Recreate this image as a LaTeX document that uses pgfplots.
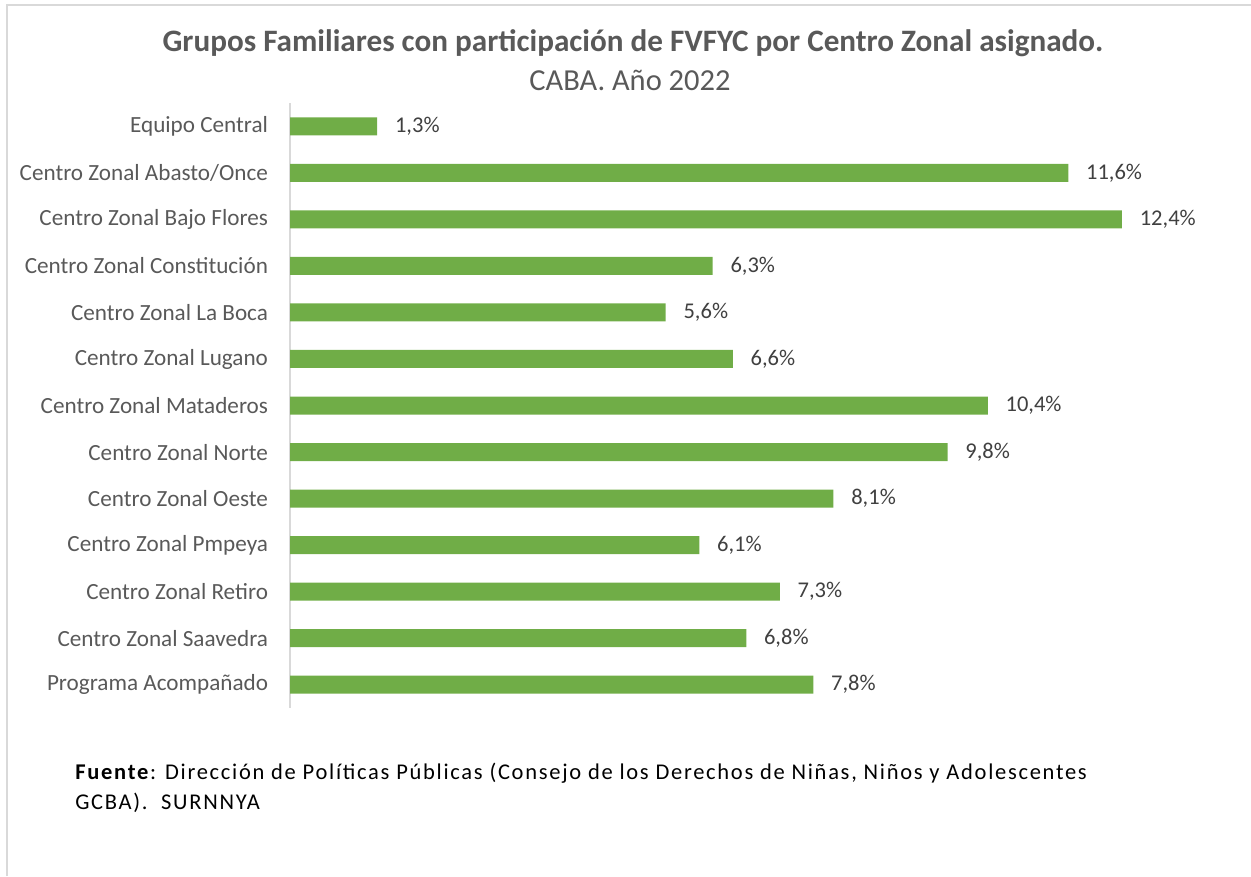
\documentclass[border=0pt]{standalone}
\usepackage{pgfplots}
\pgfplotsset{compat=1.18}
\usepackage{fontspec}
\setmainfont{Carlito}
\newfontfamily\spacedfont[LetterSpace=7.6]{Carlito}
\definecolor{bargreen}{HTML}{70AD47}
\definecolor{txtgray}{HTML}{595959}
\definecolor{lblgray}{HTML}{404040}
\definecolor{axgray}{HTML}{D9D9D9}
\pgfplotsset{/pgf/number format/assume math mode=true}
\begin{document}
\begin{tikzpicture}[x=0.6pt,y=-0.6pt]
\path[use as bounding box] (0,0) rectangle (1251,876);
\draw[axgray, line width=1.2pt] (7,876) -- (7,5) -- (1251,5);
\coordinate (A) at (290,708);
\node[font=\fontsize{18.7}{22}\selectfont\bfseries, text=txtgray, anchor=base] at (633,52) {Grupos Familiares con participación de FVFYC por Centro Zonal asignado.};
\node[font=\fontsize{18.3}{21}\selectfont, text=txtgray, anchor=base] at (630,91) {CABA. Año 2022};
\begin{axis}[
  at={(A)}, anchor=south west, scale only axis,
  width=563.6pt, height=363pt,
  xmin=0, xmax=14, ymin=-0.5, ymax=12.5,
  y dir=reverse,
  xbar, bar width=10.8pt,
  axis x line=none, axis y line*=left,
  y axis line style={draw=axgray, line width=1.2pt},
  major tick length=0pt,
  ytick={0,...,12},
  yticklabels={Equipo Central, Centro Zonal Abasto/Once, Centro Zonal Bajo Flores, Centro Zonal Constitución, Centro Zonal La Boca, Centro Zonal Lugano, Centro Zonal Mataderos, Centro Zonal Norte, Centro Zonal Oeste, Centro Zonal Pmpeya, Centro Zonal Retiro, Centro Zonal Saavedra, Programa Acompañado},
  yticklabel style={font=\fontsize{13.9}{16}\selectfont, text=txtgray, anchor=east, inner sep=0pt, xshift=-13pt},
  point meta=x,
  nodes near coords={\pgfmathprintnumber[fixed,fixed zerofill,precision=1,use comma]{\pgfplotspointmeta}\%},
  nodes near coords style={font=\fontsize{13.5}{16}\selectfont, text=lblgray, anchor=west, inner sep=0pt, xshift=10.5pt},
]
\addplot[fill=bargreen, draw=none] coordinates {
(1.3,0) (11.6,1) (12.4,2) (6.3,3) (5.6,4) (6.6,5) (10.4,6) (9.8,7) (8.1,8) (6.1,9) (7.3,10) (6.8,11) (7.8,12)};
\end{axis}
\node[font=\fontsize{13.5}{16}\spacedfont, anchor=base west, inner sep=0pt] at (75,779) {\textbf{Fuente}: Dirección de Políticas Públicas (Consejo de los Derechos de Niñas, Niños y Adolescentes};
\node[font=\fontsize{13.5}{16}\spacedfont, anchor=base west, inner sep=0pt] at (75,809) {GCBA).\ \ SURNNYA};
\end{tikzpicture}
\end{document}
